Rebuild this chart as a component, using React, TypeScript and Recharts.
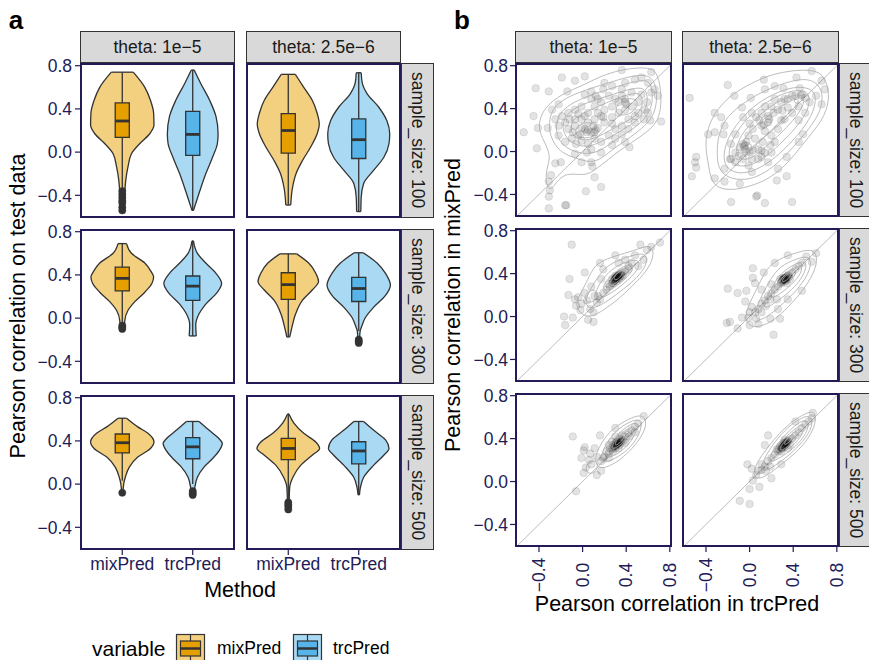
import React from "react";
import {
  Area,
  ComposedChart,
  ReferenceArea,
  ReferenceDot,
  ReferenceLine,
  Scatter,
  XAxis,
  YAxis,
} from "recharts";

// labels
const methods = ["mixPred", "trcPred"];
const thetaLabels = ["theta: 1e\u22125", "theta: 2.5e\u22126"];
const sizeLabels = ["sample_size: 100", "sample_size: 300", "sample_size: 500"];
const corrTicks = [-0.4, 0, 0.4, 0.8];

// violin outlines: [correlation, half width]
const mixViolin_1e5_100 = [[-0.54, 0.03], [-0.45, 0.035], [-0.33, 0.04], [-0.26, 0.05], [-0.14, 0.08], [-0.015, 0.13], [0.08, 0.25], [0.17, 0.39], [0.25, 0.45], [0.36, 0.445], [0.48, 0.4], [0.6, 0.32], [0.74, 0.156]];
const trcViolin_1e5_100 = [[-0.54, 0.01], [-0.48, 0.04], [-0.36, 0.1], [-0.2, 0.185], [-0.05, 0.28], [0.08, 0.35], [0.17, 0.36], [0.33, 0.33], [0.48, 0.24], [0.64, 0.11], [0.76, 0.02]];
const mixViolin_25e6_100 = [[-0.49, 0.035], [-0.33, 0.06], [-0.2, 0.11], [-0.08, 0.2], [0.05, 0.32], [0.17, 0.41], [0.26, 0.44], [0.36, 0.41], [0.48, 0.34], [0.6, 0.22], [0.72, 0.1]];
const trcViolin_25e6_100 = [[-0.55, 0.03], [-0.42, 0.035], [-0.29, 0.07], [-0.17, 0.21], [-0.05, 0.355], [0.08, 0.43], [0.17, 0.44], [0.29, 0.4], [0.42, 0.28], [0.54, 0.12], [0.64, 0.05], [0.735, 0.035]];
const mixViolin_1e5_300 = [[-0.09, 0.03], [-0.025, 0.035], [0.07, 0.08], [0.15, 0.175], [0.24, 0.32], [0.32, 0.42], [0.38, 0.445], [0.43, 0.41], [0.51, 0.32], [0.6, 0.13], [0.69, 0.06]];
const trcViolin_1e5_300 = [[-0.165, 0.05], [-0.06, 0.043], [0.04, 0.09], [0.13, 0.185], [0.24, 0.35], [0.32, 0.41], [0.415, 0.33], [0.51, 0.185], [0.6, 0.066], [0.715, 0.01]];
const mixViolin_25e6_300 = [[-0.175, 0.02], [-0.09, 0.05], [0.04, 0.105], [0.164, 0.2], [0.26, 0.34], [0.34, 0.43], [0.415, 0.39], [0.51, 0.29], [0.595, 0.12]];
const trcViolin_25e6_300 = [[-0.23, 0.01], [-0.12, 0.02], [-0.09, 0.035], [0.006, 0.095], [0.1, 0.21], [0.21, 0.38], [0.305, 0.45], [0.415, 0.38], [0.51, 0.26], [0.605, 0.065]];
const mixViolin_1e5_500 = [[-0.08, 0.01], [0.0, 0.02], [0.063, 0.043], [0.157, 0.1], [0.25, 0.22], [0.33, 0.4], [0.39, 0.45], [0.47, 0.365], [0.53, 0.22], [0.61, 0.06]];
const trcViolin_1e5_500 = [[-0.1, 0.02], [-0.03, 0.03], [0.063, 0.066], [0.157, 0.16], [0.235, 0.28], [0.31, 0.375], [0.376, 0.42], [0.42, 0.375], [0.5, 0.23], [0.58, 0.09]];
const mixViolin_25e6_500 = [[-0.235, 0.01], [-0.03, 0.02], [0.063, 0.066], [0.173, 0.175], [0.267, 0.34], [0.33, 0.445], [0.39, 0.39], [0.47, 0.22], [0.565, 0.08], [0.65, 0.01]];
const trcViolin_25e6_500 = [[-0.1, 0.01], [-0.03, 0.024], [0.063, 0.07], [0.173, 0.21], [0.267, 0.355], [0.33, 0.43], [0.41, 0.38], [0.5, 0.21], [0.58, 0.07]];

// boxes: [lower whisker, q1, median, q3, upper whisker]
const mixBox_1e5_100 = [-0.33, 0.136, 0.288, 0.456, 0.74];
const trcBox_1e5_100 = [-0.54, -0.031, 0.164, 0.378, 0.76];
const mixBox_25e6_100 = [-0.49, -0.009, 0.2, 0.357, 0.72];
const trcBox_25e6_100 = [-0.55, -0.059, 0.115, 0.307, 0.735];
const mixBox_1e5_300 = [-0.05, 0.252, 0.368, 0.472, 0.69];
const trcBox_1e5_300 = [-0.165, 0.164, 0.296, 0.39, 0.715];
const mixBox_25e6_300 = [-0.175, 0.173, 0.31, 0.42, 0.595];
const trcBox_25e6_300 = [-0.12, 0.154, 0.274, 0.378, 0.605];
const mixBox_1e5_500 = [0.03, 0.289, 0.383, 0.464, 0.61];
const trcBox_1e5_500 = [0.0, 0.235, 0.345, 0.43, 0.58];
const mixBox_25e6_500 = [-0.14, 0.226, 0.33, 0.423, 0.65];
const trcBox_25e6_500 = [-0.1, 0.188, 0.307, 0.392, 0.58];

// outliers
const mixOut_1e5_100 = [-0.36, -0.39, -0.42, -0.45, -0.47, -0.51, -0.54];
const mixOut_1e5_300 = [-0.07, -0.085, -0.1];
const trcOut_25e6_300 = [-0.2, -0.215, -0.23];
const mixOut_1e5_500 = [-0.08];
const trcOut_1e5_500 = [-0.065, -0.085, -0.1];
const mixOut_25e6_500 = [-0.17, -0.19, -0.21, -0.235];

// scatter points: [trcPred, mixPred]
const pts_1e5_100 = [
  [0.36, 0.76], [0.63, 0.74], [-0.19, 0.69], [-0.07, 0.66], [0.02, 0.7], [-0.43, 0.59], [-0.31, 0.56], [-0.14, 0.56], [0.02, 0.53], [0.12, 0.52],
  [-0.54, 0.18], [-0.45, 0.33], [-0.42, 0.03], [-0.41, 0.22], [-0.32, 0.22], [-0.28, 0.39], [-0.22, 0.44], [0.72, 0.28], [0.43, 0.04], [-0.25, -0.11],
  [-0.2, -0.1], [-0.29, -0.22], [-0.31, -0.28], [-0.3, -0.36], [-0.31, -0.42], [0.03, -0.37], [0.17, -0.33], [0.09, -0.14], [0.11, -0.24], [-0.31, -0.53],
  [-0.15, -0.5], [-0.16, -0.5], [-0.01, -0.1], [-0.07, -0.02], [0.19, 0.58], [0.27, 0.61], [0.39, 0.64], [0.48, 0.67], [0.54, 0.69], [0.6, 0.64],
  [0.63, 0.55], [0.59, 0.46], [0.54, 0.53], [0.45, 0.55], [0.36, 0.52], [0.3, 0.49], [0.24, 0.52], [0.17, 0.46], [0.11, 0.42], [0.05, 0.36],
  [-0.01, 0.3], [-0.07, 0.24], [-0.09, 0.18], [-0.04, 0.15], [0.02, 0.21], [0.08, 0.18], [0.14, 0.22], [0.2, 0.27], [0.27, 0.32], [0.33, 0.36],
  [0.39, 0.39], [0.45, 0.42], [0.51, 0.36], [0.56, 0.3], [0.48, 0.27], [0.42, 0.3], [0.36, 0.24], [0.3, 0.21], [0.24, 0.15], [0.17, 0.09],
  [0.11, 0.12], [0.05, 0.07], [-0.01, 0.1], [-0.06, 0.07], [-0.13, 0.21], [-0.16, 0.27], [-0.19, 0.33], [-0.13, 0.36], [-0.07, 0.39], [-0.01, 0.42],
  [0.08, 0.49], [0.14, 0.36], [0.2, 0.39], [0.27, 0.42], [0.33, 0.46], [0.39, 0.49], [0.51, 0.46], [0.57, 0.39], [0.66, 0.58], [0.36, 0.58],
  [0.17, 0.33], [0.11, 0.3], [0.05, 0.27], [-0.01, 0.22], [-0.07, 0.3], [-0.1, 0.12], [-0.16, 0.09], [-0.22, 0.15], [-0.22, 0.24], [-0.25, 0.3],
  [0.3, 0.12], [0.36, 0.16], [0.42, 0.21], [0.48, 0.33], [0.08, 0.02], [0.17, -0.01], [0.04, -0.01], [0.27, 0.06], [0.39, 0.09], [0.6, 0.36],
  [0.62, 0.29], [0.69, 0.52], [0.2, 0.64], [0.08, 0.56], [0.14, 0.49], [0.27, 0.26], [0.1, 0.24], [0.02, 0.33], [-0.04, 0.35], [-0.12, 0.3],
  [0.04, 0.18], [0.39, 0.46], [0.19, 0.32], [0.11, 0.18], [-0.02, 0.16], [0.08, -0.1], [0.05, 0.2], [0.4, 0.44], [0.12, 0.2],
];
const pts_25e6_100 = [
  [-0.2, 0.62], [-0.55, 0.5], [-0.14, 0.52], [0.01, 0.5], [0.13, 0.67], [0.23, 0.61], [0.31, 0.59], [0.43, 0.69], [0.57, 0.75], [0.66, 0.66],
  [0.69, 0.58], [0.61, 0.52], [0.66, 0.44], [0.46, 0.59], [0.39, 0.52], [0.32, 0.49], [0.14, 0.58], [-0.32, 0.36], [-0.26, 0.32], [-0.23, 0.24],
  [-0.38, 0.16], [-0.32, 0.18], [-0.24, 0.16], [-0.13, 0.16], [-0.17, 0.07], [-0.49, -0.05], [-0.5, -0.1], [-0.53, -0.23], [-0.49, -0.15], [-0.32, -0.25],
  [-0.23, -0.28], [-0.09, -0.3], [-0.17, -0.47], [0.06, -0.42], [0.07, -0.41], [0.14, -0.48], [0.39, -0.47], [0.25, -0.27], [0.34, -0.23], [0.26, -0.16],
  [0.49, 0.16], [0.45, 0.09], [0.34, -0.05], [0.02, -0.19], [0.11, 0.01], [0.2, -0.01], [-0.23, -0.16], [-0.17, -0.07], [-0.07, 0.41], [-0.06, 0.32],
  [-0.04, 0.06], [-0.03, -0.01], [-0.06, -0.07], [-0.1, -0.04], [-0.13, -0.1], [-0.18, -0.07], [-0.01, -0.13], [0.02, -0.07], [0.08, 0.02], [0.12, 0.09],
  [0.05, 0.12], [-0.01, 0.15], [0.03, 0.21], [0.11, 0.24], [0.17, 0.27], [0.11, 0.36], [0.14, 0.42], [0.17, 0.33], [0.22, 0.36], [0.26, 0.39],
  [0.29, 0.46], [0.35, 0.49], [0.42, 0.52], [0.48, 0.53], [0.51, 0.5], [0.45, 0.42], [0.39, 0.36], [0.32, 0.3], [0.26, 0.21], [0.2, 0.15],
  [0.19, 0.06], [0.23, 0.09], [0.14, -0.01], [0.08, -0.07], [0.09, 0.29], [0.06, 0.32], [0.14, 0.19], [-0.03, 0.09], [-0.09, 0.04], [-0.13, -0.01],
  [0.29, 0.29], [0.35, 0.41], [0.23, 0.49], [0.02, 0.36], [0.0, 0.26], [-0.06, 0.07], [-0.04, 0.02], [0.03, 0.01], [0.11, -0.05], [0.17, -0.1],
  [0.2, 0.42], [0.45, 0.29], [0.51, 0.36], [0.55, 0.46], [-0.05, 0.05], [0.0, 0.0], [0.13, 0.25], [0.47, 0.52], [0.3, 0.38], [0.18, 0.3],
];
const pts_1e5_300 = [
  [-0.1, 0.67], [0.02, 0.41], [-0.12, 0.35], [-0.13, 0.2], [-0.17, 0.0], [-0.09, -0.01], [-0.16, -0.08], [0.05, -0.03], [0.1, -0.05], [-0.02, 0.06],
  [-0.07, 0.16], [-0.04, 0.18], [0.02, 0.22], [0.11, 0.19], [0.07, 0.07], [0.1, 0.04], [0.3, 0.57], [0.53, 0.67], [0.63, 0.65], [0.71, 0.69],
  [0.56, 0.53], [0.16, 0.5], [0.19, 0.44], [0.08, 0.28], [0.17, 0.35], [0.14, 0.19], [0.04, 0.15], [-0.01, 0.12], [-0.06, 0.1], [0.33, 0.5],
  [0.39, 0.53], [0.48, 0.57], [0.59, 0.62], [0.42, 0.44], [0.51, 0.47], [0.27, 0.35], [0.3, 0.38], [0.33, 0.39], [0.36, 0.41], [0.39, 0.42],
  [0.28, 0.31], [0.25, 0.28], [0.22, 0.25], [0.31, 0.33], [0.34, 0.36], [0.37, 0.38], [0.3, 0.35], [0.33, 0.35], [0.36, 0.38], [0.27, 0.31],
  [0.24, 0.3], [0.42, 0.47], [0.45, 0.5], [0.19, 0.22], [0.16, 0.16], [0.13, 0.13], [0.32, 0.37], [0.35, 0.39], [0.29, 0.33], [0.31, 0.36],
  [0.29, 0.34], [0.3, 0.35], [0.31, 0.36], [0.32, 0.37], [0.33, 0.38], [0.34, 0.39], [0.3, 0.36], [0.32, 0.36], [0.31, 0.35], [0.33, 0.37],
  [0.28, 0.33], [0.35, 0.4], [0.31, 0.37], [0.32, 0.38], [0.3, 0.34],
];
const pts_25e6_300 = [
  [-0.2, 0.26], [-0.11, 0.22], [-0.21, -0.06], [-0.18, -0.05], [-0.11, -0.11], [0.22, -0.17], [-0.04, 0.14], [-0.03, 0.24], [0.03, 0.45], [0.03, 0.36],
  [0.13, 0.41], [0.05, 0.31], [-0.07, -0.01], [0.0, 0.04], [0.08, -0.07], [0.0, -0.08], [0.19, -0.02], [0.26, 0.07], [0.28, -0.02], [0.35, 0.16],
  [0.48, 0.24], [0.23, 0.5], [0.35, 0.57], [0.52, 0.56], [0.61, 0.59], [0.57, 0.51], [0.29, 0.31], [0.32, 0.35], [0.35, 0.38], [0.39, 0.41],
  [0.42, 0.44], [0.26, 0.28], [0.23, 0.25], [0.2, 0.22], [0.17, 0.19], [0.14, 0.15], [0.11, 0.12], [0.08, 0.07], [0.05, 0.04], [0.34, 0.31],
  [0.31, 0.36], [0.37, 0.35], [0.28, 0.35], [0.45, 0.47], [0.48, 0.5], [0.19, 0.16], [0.15, 0.1], [0.11, 0.04], [0.02, 0.09], [-0.01, -0.01],
  [0.06, -0.02], [0.2, 0.3], [0.11, 0.25], [0.25, 0.16], [0.33, 0.33], [0.3, 0.34], [0.36, 0.37],
  [0.3, 0.33], [0.31, 0.34], [0.32, 0.35], [0.33, 0.36], [0.34, 0.37], [0.35, 0.38], [0.31, 0.35], [0.33, 0.35], [0.32, 0.34], [0.34, 0.36],
  [0.29, 0.32], [0.36, 0.39], [0.32, 0.36], [0.33, 0.34],
];
const pts_1e5_500 = [
  [-0.09, 0.42], [0.16, 0.43], [0.02, 0.32], [0.01, 0.29], [0.06, 0.2], [0.08, 0.16], [0.13, 0.06], [0.01, 0.08], [0.03, 0.13], [0.17, 0.1],
  [-0.06, -0.09], [0.11, 0.31], [0.07, 0.26], [0.13, 0.23], [-0.01, 0.22], [0.56, 0.61], [0.3, 0.5], [0.2, 0.23], [0.24, 0.26], [0.27, 0.3],
  [0.3, 0.33], [0.33, 0.36], [0.36, 0.39], [0.39, 0.42], [0.42, 0.45], [0.45, 0.48], [0.48, 0.51], [0.51, 0.54], [0.28, 0.34], [0.31, 0.37],
  [0.34, 0.4], [0.25, 0.31], [0.22, 0.28], [0.34, 0.34], [0.37, 0.38], [0.28, 0.28], [0.33, 0.31], [0.17, 0.19], [0.19, 0.22], [0.24, 0.22],
  [0.39, 0.36], [0.43, 0.42], [0.27, 0.37], [0.3, 0.42], [0.36, 0.43], [0.48, 0.46], [0.24, 0.34], [0.32, 0.35], [0.3, 0.31], [0.35, 0.37],
  [0.29, 0.33], [0.3, 0.34], [0.31, 0.35], [0.32, 0.36], [0.33, 0.37], [0.34, 0.38], [0.3, 0.35], [0.32, 0.35], [0.31, 0.34], [0.33, 0.36],
  [0.28, 0.32], [0.35, 0.39], [0.31, 0.36], [0.32, 0.37],
];
const pts_25e6_500 = [
  [0.58, 0.64], [0.42, 0.56], [-0.02, 0.16], [0.02, 0.12], [0.29, 0.16], [0.2, 0.03], [0.09, -0.05], [0.0, -0.07], [-0.09, -0.18], [0.0, -0.21],
  [0.06, 0.06], [0.03, 0.01], [0.11, 0.16], [0.14, 0.34], [0.17, 0.43], [0.11, 0.11], [0.14, 0.14], [0.17, 0.19], [0.2, 0.22], [0.23, 0.25],
  [0.26, 0.28], [0.29, 0.31], [0.32, 0.34], [0.35, 0.37], [0.39, 0.4], [0.42, 0.43], [0.45, 0.46], [0.48, 0.5], [0.51, 0.53], [0.54, 0.56],
  [0.57, 0.59], [0.28, 0.33], [0.31, 0.36], [0.34, 0.37], [0.37, 0.34], [0.29, 0.28], [0.25, 0.3], [0.32, 0.39], [0.35, 0.31], [0.19, 0.14],
  [0.15, 0.1], [0.08, 0.1], [0.3, 0.32], [0.33, 0.35], [0.27, 0.3],
  [0.3, 0.33], [0.31, 0.34], [0.32, 0.35], [0.33, 0.36], [0.34, 0.37], [0.35, 0.38], [0.31, 0.33], [0.33, 0.35], [0.32, 0.33], [0.34, 0.36],
  [0.29, 0.32], [0.36, 0.39], [0.32, 0.36], [0.3, 0.31],
];

// density contour rings: [trcPred, mixPred]
const contours_1e5_100 = [
  [[0.68, 0.75], [0.72, 0.58], [0.72, 0.39], [0.68, 0.27], [0.59, 0.18], [0.46, 0.09], [0.34, 0.01], [0.24, -0.07], [0.13, -0.16], [0.04, -0.22], [-0.07, -0.21], [-0.16, -0.21], [-0.24, -0.28], [-0.3, -0.38], [-0.34, -0.28], [-0.33, -0.16], [-0.29, -0.04], [-0.35, 0.09], [-0.41, 0.21], [-0.38, 0.36], [-0.28, 0.47], [-0.16, 0.55], [-0.01, 0.61], [0.14, 0.69], [0.3, 0.75], [0.48, 0.78], [0.6, 0.78]],
  [[0.66, 0.7], [0.69, 0.49], [0.65, 0.32], [0.54, 0.21], [0.42, 0.12], [0.3, 0.04], [0.17, -0.07], [0.08, -0.1], [-0.01, -0.08], [-0.13, -0.04], [-0.23, 0.02], [-0.3, 0.15], [-0.31, 0.27], [-0.28, 0.39], [-0.19, 0.48], [-0.04, 0.55], [0.14, 0.61], [0.33, 0.67], [0.51, 0.72]],
  [[0.63, 0.64], [0.65, 0.46], [0.59, 0.32], [0.48, 0.22], [0.36, 0.15], [0.24, 0.06], [0.11, -0.02], [-0.01, -0.02], [-0.13, 0.02], [-0.22, 0.1], [-0.25, 0.22], [-0.22, 0.35], [-0.12, 0.44], [0.05, 0.52], [0.24, 0.58], [0.42, 0.64], [0.57, 0.67]],
  [[0.59, 0.6], [0.6, 0.44], [0.54, 0.32], [0.43, 0.24], [0.3, 0.16], [0.17, 0.09], [0.05, 0.04], [-0.06, 0.06], [-0.15, 0.12], [-0.19, 0.23], [-0.16, 0.33], [-0.07, 0.41], [0.08, 0.47], [0.27, 0.53], [0.45, 0.59]],
  [[0.54, 0.55], [0.56, 0.42], [0.48, 0.32], [0.36, 0.26], [0.24, 0.19], [0.13, 0.13], [0.02, 0.1], [-0.07, 0.13], [-0.12, 0.21], [-0.09, 0.3], [0.01, 0.36], [0.14, 0.42], [0.3, 0.49], [0.44, 0.54]],
  [[0.14, 0.22], [0.13, 0.15], [0.04, 0.12], [-0.06, 0.14], [-0.07, 0.21], [-0.01, 0.27], [0.1, 0.27]],
  [[0.51, 0.49], [0.5, 0.39], [0.39, 0.33], [0.3, 0.35], [0.31, 0.44], [0.4, 0.5]],
  [[0.08, 0.21], [0.04, 0.16], [-0.02, 0.19], [0.01, 0.24]],
];
const contours_25e6_100 = [
  [[0.69, 0.7], [0.74, 0.52], [0.69, 0.33], [0.58, 0.18], [0.48, 0.06], [0.36, -0.1], [0.2, -0.24], [0.05, -0.31], [-0.13, -0.36], [-0.29, -0.35], [-0.36, -0.25], [-0.38, -0.1], [-0.41, 0.06], [-0.38, 0.24], [-0.3, 0.39], [-0.17, 0.53], [0.02, 0.64], [0.2, 0.72], [0.42, 0.76], [0.6, 0.76]],
  [[0.64, 0.64], [0.68, 0.49], [0.63, 0.33], [0.52, 0.18], [0.4, 0.04], [0.26, -0.11], [0.11, -0.22], [-0.04, -0.27], [-0.2, -0.25], [-0.29, -0.16], [-0.3, -0.01], [-0.29, 0.14], [-0.23, 0.3], [-0.1, 0.42], [0.06, 0.53], [0.26, 0.62], [0.49, 0.69]],
  [[0.6, 0.59], [0.61, 0.44], [0.55, 0.3], [0.45, 0.16], [0.31, 0.01], [0.17, -0.11], [0.02, -0.19], [-0.12, -0.21], [-0.23, -0.14], [-0.24, -0.02], [-0.2, 0.13], [-0.1, 0.28], [0.03, 0.42], [0.2, 0.53], [0.4, 0.61]],
  [[0.55, 0.56], [0.55, 0.42], [0.48, 0.29], [0.36, 0.15], [0.22, 0.01], [0.08, -0.1], [-0.06, -0.15], [-0.17, -0.11], [-0.2, -0.01], [-0.15, 0.13], [-0.06, 0.27], [0.08, 0.41], [0.25, 0.52], [0.43, 0.58]],
  [[0.51, 0.53], [0.49, 0.41], [0.4, 0.29], [0.28, 0.16], [0.14, 0.04], [0.02, -0.07], [-0.09, -0.08], [-0.13, -0.01], [-0.1, 0.12], [-0.01, 0.24], [0.11, 0.36], [0.26, 0.47], [0.41, 0.53]],
  [[0.46, 0.49], [0.43, 0.39], [0.32, 0.29], [0.2, 0.19], [0.08, 0.09], [-0.01, 0.01], [-0.07, 0.02], [-0.06, 0.11], [0.03, 0.22], [0.16, 0.33], [0.29, 0.42], [0.4, 0.49]],
  [[0.03, 0.07], [0.0, -0.02], [-0.07, -0.04], [-0.09, 0.04], [-0.03, 0.09]],
  [[0.22, 0.33], [0.19, 0.24], [0.11, 0.21], [0.08, 0.27], [0.14, 0.35]],
  [[0.51, 0.53], [0.48, 0.46], [0.4, 0.44], [0.42, 0.52]],
];
const contours_1e5_300 = [
  [[0.63, 0.67], [0.66, 0.57], [0.59, 0.42], [0.46, 0.29], [0.33, 0.16], [0.19, 0.06], [0.08, -0.01], [-0.02, 0.02], [-0.07, 0.12], [-0.02, 0.21], [0.05, 0.35], [0.11, 0.48], [0.22, 0.54], [0.39, 0.59], [0.54, 0.64]],
  [[0.59, 0.59], [0.59, 0.48], [0.5, 0.36], [0.37, 0.25], [0.25, 0.16], [0.14, 0.09], [0.05, 0.07], [0.02, 0.15], [0.07, 0.25], [0.14, 0.37], [0.22, 0.47], [0.34, 0.53], [0.48, 0.58]],
  [[0.52, 0.54], [0.52, 0.45], [0.43, 0.35], [0.31, 0.25], [0.2, 0.18], [0.13, 0.16], [0.11, 0.22], [0.17, 0.33], [0.26, 0.44], [0.39, 0.51]],
  [[0.47, 0.5], [0.46, 0.42], [0.37, 0.33], [0.27, 0.25], [0.19, 0.24], [0.19, 0.3], [0.27, 0.39], [0.37, 0.47]],
  [[0.43, 0.47], [0.42, 0.41], [0.33, 0.33], [0.26, 0.28], [0.24, 0.31], [0.3, 0.39], [0.37, 0.45]],
  [[0.38, 0.44], [0.36, 0.38], [0.3, 0.33], [0.28, 0.36], [0.33, 0.42]],
  [[0.14, 0.24], [0.13, 0.15], [0.04, 0.12], [0.01, 0.19], [0.07, 0.25]],
];
const contours_25e6_300 = [
  [[0.6, 0.62], [0.63, 0.5], [0.54, 0.31], [0.42, 0.16], [0.29, 0.02], [0.17, -0.07], [0.03, -0.11], [-0.04, -0.05], [-0.03, 0.07], [0.05, 0.22], [0.12, 0.38], [0.2, 0.5], [0.35, 0.57], [0.51, 0.62]],
  [[0.55, 0.57], [0.57, 0.47], [0.49, 0.31], [0.37, 0.18], [0.25, 0.07], [0.14, -0.02], [0.06, -0.04], [0.05, 0.06], [0.11, 0.19], [0.19, 0.35], [0.28, 0.47], [0.43, 0.54]],
  [[0.52, 0.53], [0.52, 0.44], [0.45, 0.31], [0.32, 0.19], [0.22, 0.12], [0.14, 0.07], [0.12, 0.13], [0.19, 0.24], [0.26, 0.38], [0.39, 0.48]],
  [[0.48, 0.48], [0.48, 0.41], [0.39, 0.3], [0.28, 0.21], [0.19, 0.16], [0.19, 0.22], [0.28, 0.35], [0.39, 0.45]],
  [[0.43, 0.44], [0.42, 0.38], [0.34, 0.3], [0.26, 0.26], [0.25, 0.29], [0.31, 0.38], [0.39, 0.44]],
  [[0.39, 0.41], [0.36, 0.35], [0.29, 0.31], [0.31, 0.36], [0.35, 0.4]],
];
const contours_1e5_500 = [
  [[0.57, 0.62], [0.59, 0.51], [0.51, 0.37], [0.4, 0.25], [0.3, 0.17], [0.19, 0.12], [0.13, 0.14], [0.11, 0.22], [0.16, 0.34], [0.24, 0.46], [0.36, 0.55], [0.48, 0.61]],
  [[0.54, 0.59], [0.54, 0.48], [0.47, 0.35], [0.36, 0.25], [0.25, 0.19], [0.17, 0.17], [0.17, 0.25], [0.22, 0.36], [0.31, 0.48], [0.43, 0.56]],
  [[0.51, 0.56], [0.5, 0.47], [0.43, 0.35], [0.33, 0.26], [0.24, 0.22], [0.2, 0.25], [0.24, 0.34], [0.33, 0.45], [0.43, 0.53]],
  [[0.47, 0.52], [0.46, 0.44], [0.4, 0.35], [0.31, 0.28], [0.25, 0.26], [0.23, 0.3], [0.28, 0.37], [0.37, 0.47]],
  [[0.43, 0.48], [0.42, 0.42], [0.35, 0.34], [0.28, 0.3], [0.26, 0.32], [0.31, 0.4], [0.39, 0.46]],
  [[0.39, 0.44], [0.37, 0.39], [0.31, 0.33], [0.29, 0.35], [0.33, 0.41]],
  [[0.14, 0.2], [0.14, 0.11], [0.07, 0.06], [0.02, 0.11], [0.05, 0.19]],
];
const contours_25e6_500 = [
  [[0.6, 0.66], [0.61, 0.54], [0.54, 0.4], [0.42, 0.26], [0.29, 0.16], [0.17, 0.06], [0.08, 0.02], [0.03, 0.06], [0.06, 0.17], [0.16, 0.31], [0.27, 0.45], [0.4, 0.57], [0.52, 0.64]],
  [[0.57, 0.62], [0.58, 0.51], [0.49, 0.37], [0.37, 0.25], [0.25, 0.16], [0.14, 0.09], [0.1, 0.12], [0.14, 0.23], [0.23, 0.37], [0.35, 0.51], [0.48, 0.6]],
  [[0.54, 0.58], [0.54, 0.48], [0.45, 0.35], [0.34, 0.26], [0.23, 0.19], [0.18, 0.19], [0.19, 0.25], [0.26, 0.36], [0.37, 0.48], [0.46, 0.56]],
  [[0.5, 0.54], [0.5, 0.46], [0.42, 0.35], [0.31, 0.27], [0.23, 0.24], [0.23, 0.29], [0.31, 0.39], [0.42, 0.5]],
  [[0.46, 0.49], [0.45, 0.43], [0.37, 0.34], [0.29, 0.28], [0.27, 0.31], [0.34, 0.4], [0.42, 0.47]],
  [[0.41, 0.45], [0.39, 0.39], [0.33, 0.34], [0.31, 0.35], [0.36, 0.42]],
];

const violinFacets = [
  { row: 0, col: 0, mix: [mixViolin_1e5_100, mixBox_1e5_100, mixOut_1e5_100], trc: [trcViolin_1e5_100, trcBox_1e5_100, []] },
  { row: 0, col: 1, mix: [mixViolin_25e6_100, mixBox_25e6_100, []], trc: [trcViolin_25e6_100, trcBox_25e6_100, []] },
  { row: 1, col: 0, mix: [mixViolin_1e5_300, mixBox_1e5_300, mixOut_1e5_300], trc: [trcViolin_1e5_300, trcBox_1e5_300, []] },
  { row: 1, col: 1, mix: [mixViolin_25e6_300, mixBox_25e6_300, []], trc: [trcViolin_25e6_300, trcBox_25e6_300, trcOut_25e6_300] },
  { row: 2, col: 0, mix: [mixViolin_1e5_500, mixBox_1e5_500, mixOut_1e5_500], trc: [trcViolin_1e5_500, trcBox_1e5_500, trcOut_1e5_500] },
  { row: 2, col: 1, mix: [mixViolin_25e6_500, mixBox_25e6_500, mixOut_25e6_500], trc: [trcViolin_25e6_500, trcBox_25e6_500, []] },
];

const scatterFacets = [
  { row: 0, col: 0, pts: pts_1e5_100, rings: contours_1e5_100 },
  { row: 0, col: 1, pts: pts_25e6_100, rings: contours_25e6_100 },
  { row: 1, col: 0, pts: pts_1e5_300, rings: contours_1e5_300 },
  { row: 1, col: 1, pts: pts_25e6_300, rings: contours_25e6_300 },
  { row: 2, col: 0, pts: pts_1e5_500, rings: contours_1e5_500 },
  { row: 2, col: 1, pts: pts_25e6_500, rings: contours_25e6_500 },
];

const NAVY = "#221B57";
const OUTLINE = "#333333";
const FONT = "'Liberation Sans', Arial, Helvetica, sans-serif";
const MIX_VIOLIN = "#F3CF80";
const MIX_BOX = "#E69F00";
const TRC_VIOLIN = "#AAD9F3";
const TRC_BOX = "#56B4E9";
const TICK_FS = 17.5;
const TITLE_FS = 21.5;

const Y_DOMAIN = [-0.61, 0.825];
const METHOD_DOMAIN = [0.4, 2.6];
const B_X_DOMAIN = [-0.62, 0.82];

const A = { cols: [80, 246], rows: [63, 229, 395], w: 155, h: 155 };
const B = { cols: [515, 682], rows: [63, 228, 393], w: 157, h: 154 };
const AXW = 45;

const fmt = (v: number) => (v < 0 ? "\u2212" : "") + Math.abs(v).toFixed(1);

function ViolinChart({ spec, center, fill, boxFill, showY, showX }: any) {
  const [profile, box, outliers] = spec;
  const rows = profile.map(([y, w]: number[]) => ({ y, span: [center - w, center + w] }));
  const first = profile[0];
  const last = profile[profile.length - 1];
  const width = A.w + (showY ? AXW : 0);
  const height = A.h + (showX ? 30 : 0);
  const line = { stroke: OUTLINE, strokeWidth: 1.3 };
  return (
    <ComposedChart layout="vertical" width={width} height={height} data={rows} margin={{ top: 0, right: 0, bottom: 0, left: 0 }}>
      <XAxis
        type="number"
        domain={METHOD_DOMAIN}
        allowDataOverflow
        ticks={[1, 2]}
        interval={0}
        tickFormatter={(v) => methods[v - 1]}
        hide={!showX}
        height={30}
        axisLine={false}
        tickSize={5}
        tickMargin={3}
        tickLine={{ stroke: NAVY, strokeWidth: 1.2 }}
        tick={{ fill: NAVY, fontSize: TICK_FS }}
      />
      <YAxis
        type="number"
        dataKey="y"
        reversed
        domain={Y_DOMAIN}
        allowDataOverflow
        ticks={corrTicks}
        interval={0}
        tickFormatter={fmt}
        hide={!showY}
        width={AXW}
        axisLine={false}
        tickSize={5}
        tickMargin={3}
        tickLine={{ stroke: NAVY, strokeWidth: 1.2 }}
        tick={{ fill: NAVY, fontSize: TICK_FS }}
      />
      <Area dataKey="span" type="monotone" fill={fill} fillOpacity={1} stroke={OUTLINE} strokeWidth={1.3} dot={false} activeDot={false} isAnimationActive={false} />
      <ReferenceLine segment={[{ x: center - first[1], y: first[0] }, { x: center + first[1], y: first[0] }]} {...line} />
      <ReferenceLine segment={[{ x: center - last[1], y: last[0] }, { x: center + last[1], y: last[0] }]} {...line} />
      <ReferenceLine segment={[{ x: center, y: box[0] }, { x: center, y: box[1] }]} {...line} />
      <ReferenceLine segment={[{ x: center, y: box[3] }, { x: center, y: box[4] }]} {...line} />
      <ReferenceArea x1={center - 0.1} x2={center + 0.1} y1={box[1]} y2={box[3]} fill={boxFill} fillOpacity={1} stroke={OUTLINE} strokeWidth={1.3} />
      <ReferenceLine segment={[{ x: center - 0.1, y: box[2] }, { x: center + 0.1, y: box[2] }]} stroke={OUTLINE} strokeWidth={2.8} />
      {outliers.map((v: number, i: number) => (
        <ReferenceDot key={i} x={center} y={v} r={3.6} fill={OUTLINE} stroke={OUTLINE} strokeWidth={0.5} />
      ))}
    </ComposedChart>
  );
}

function RotatedTick(props: any) {
  const { x, y, payload } = props;
  return (
    <text transform={`translate(${x},${y + 21}) rotate(-90)`} textAnchor="middle" dominantBaseline="central" fill={NAVY} fontSize={TICK_FS}>
      {fmt(payload.value)}
    </text>
  );
}

function ScatterChartFacet({ pts, rings, showY, showX }: any) {
  const width = B.w + (showY ? AXW : 0);
  const height = B.h + (showX ? 50 : 0);
  const points = pts.map(([x, y]: number[]) => ({ x, y }));
  return (
    <ComposedChart width={width} height={height} margin={{ top: 0, right: 0, bottom: 0, left: 0 }}>
      <XAxis
        type="number"
        dataKey="x"
        domain={B_X_DOMAIN}
        allowDataOverflow
        ticks={corrTicks}
        interval={0}
        hide={!showX}
        height={50}
        axisLine={false}
        tickSize={5}
        tickMargin={2}
        tickLine={{ stroke: NAVY, strokeWidth: 1.2 }}
        tick={<RotatedTick />}
      />
      <YAxis
        type="number"
        dataKey="y"
        domain={Y_DOMAIN}
        allowDataOverflow
        ticks={corrTicks}
        interval={0}
        tickFormatter={fmt}
        hide={!showY}
        width={AXW}
        axisLine={false}
        tickSize={5}
        tickMargin={2}
        tickLine={{ stroke: NAVY, strokeWidth: 1.2 }}
        tick={{ fill: NAVY, fontSize: TICK_FS }}
      />
      <ReferenceLine segment={[{ x: -0.61, y: -0.61 }, { x: 0.82, y: 0.82 }]} stroke="#BDBDBD" strokeWidth={1} ifOverflow="hidden" />
      <Scatter
        data={points}
        isAnimationActive={false}
        shape={(p: any) => (
          <circle cx={p.cx} cy={p.cy} r={3.8} fill="#000" fillOpacity={0.11} stroke="#000" strokeOpacity={0.1} strokeWidth={0.9} />
        )}
      />
      {rings.map((ring: number[][], i: number) => (
        <Scatter
          key={i}
          data={ring.map(([x, y]) => ({ x, y }))}
          line={{ stroke: "#ABABAB", strokeWidth: 0.8 }}
          lineJointType="basisClosed"
          shape={() => <g />}
          isAnimationActive={false}
        />
      ))}
    </ComposedChart>
  );
}

function Box({ left, top, width, height, style, children }: any) {
  return <div style={{ position: "absolute", left, top, width, height, boxSizing: "border-box", ...style }}>{children}</div>;
}

const stripStyle = {
  background: "#D9D9D9",
  border: "1px solid #333",
  color: "#1A1A1A",
  fontSize: TICK_FS,
  display: "flex",
  alignItems: "center",
  justifyContent: "center",
  zIndex: 4,
};

const borderStyle = { border: `2px solid ${NAVY}`, pointerEvents: "none", zIndex: 5 };

function Strips({ cols, rows, w, h, rightX }: any) {
  return (
    <>
      {cols.map((x: number, c: number) => (
        <Box key={"t" + c} left={x} top={31} width={w} height={32} style={stripStyle}>
          {thetaLabels[c]}
        </Box>
      ))}
      {rows.map((y: number, r: number) => (
        <Box key={"r" + r} left={rightX} top={y} width={33} height={h} style={{ ...stripStyle, writingMode: "vertical-rl" }}>
          {sizeLabels[r]}
        </Box>
      ))}
    </>
  );
}

function Title({ x, y, rotate, children, size = TITLE_FS, weight = 400 }: any) {
  return (
    <div
      style={{
        position: "absolute",
        left: x,
        top: y,
        transform: `translate(-50%, -50%)${rotate ? " rotate(-90deg)" : ""}`,
        whiteSpace: "nowrap",
        fontSize: size,
        fontWeight: weight,
        color: "#000",
      }}
    >
      {children}
    </div>
  );
}

function LegendKey({ x, y, fill, boxFill }: any) {
  return (
    <g>
      <rect x={x} y={y} width={28} height={28} fill={fill} stroke={OUTLINE} strokeWidth={1.2} />
      <line x1={x + 14} x2={x + 14} y1={y} y2={y + 6.5} stroke={OUTLINE} strokeWidth={1.2} />
      <line x1={x + 14} x2={x + 14} y1={y + 21.5} y2={y + 28} stroke={OUTLINE} strokeWidth={1.2} />
      <rect x={x + 4} y={y + 6.5} width={20} height={15} fill={boxFill} stroke={OUTLINE} strokeWidth={1.2} />
      <line x1={x + 4} x2={x + 24} y1={y + 14} y2={y + 14} stroke={OUTLINE} strokeWidth={2.5} />
    </g>
  );
}

export default function App() {
  return (
    <div style={{ position: "absolute", left: 0, top: 0, width: 869, height: 660, overflow: "hidden", background: "#fff", fontFamily: FONT }}>
      <style>{`.recharts-surface { overflow: visible; }`}</style>

      <Title x={16} y={20} size={26} weight={700}>a</Title>
      <Title x={462} y={20} size={26} weight={700}>b</Title>

      {/* panel a: violins */}
      {violinFacets.map((f, i) => {
        const x0 = A.cols[f.col];
        const y0 = A.rows[f.row];
        const showY = f.col === 0;
        const showX = f.row === 2;
        return (
          <React.Fragment key={"v" + i}>
            <Box left={showY ? x0 - AXW : x0} top={y0}>
              <ViolinChart spec={f.mix} center={1} fill={MIX_VIOLIN} boxFill={MIX_BOX} showY={showY} showX={showX} />
            </Box>
            <Box left={x0} top={y0}>
              <ViolinChart spec={f.trc} center={2} fill={TRC_VIOLIN} boxFill={TRC_BOX} showY={false} showX={false} />
            </Box>
            <Box left={x0} top={y0} width={A.w} height={A.h} style={borderStyle} />
          </React.Fragment>
        );
      })}
      <Strips cols={A.cols} rows={A.rows} w={A.w} h={A.h} rightX={401} />
      <Title x={18} y={306} rotate>Pearson correlation on test data</Title>
      <Title x={240} y={590}>Method</Title>

      {/* panel b: scatter with density contours */}
      {scatterFacets.map((f, i) => {
        const x0 = B.cols[f.col];
        const y0 = B.rows[f.row];
        const showY = f.col === 0;
        const showX = f.row === 2;
        return (
          <React.Fragment key={"s" + i}>
            <Box left={showY ? x0 - AXW : x0} top={y0}>
              <ScatterChartFacet pts={f.pts} rings={f.rings} showY={showY} showX={showX} />
            </Box>
            <Box left={x0} top={y0} width={B.w} height={B.h} style={borderStyle} />
          </React.Fragment>
        );
      })}
      <Strips cols={B.cols} rows={B.rows} w={B.w} h={B.h} rightX={839} />
      <Title x={453} y={305} rotate>Pearson correlation in mixPred</Title>
      <Title x={677} y={604}>Pearson correlation in trcPred</Title>

      {/* legend */}
      <svg width={869} height={660} style={{ position: "absolute", left: 0, top: 0, pointerEvents: "none" }}>
        <text x={92} y={648} dominantBaseline="central" fontSize={21} fill="#000">variable</text>
        <LegendKey x={176.5} y={634.5} fill={MIX_VIOLIN} boxFill={MIX_BOX} />
        <text x={217} y={648} dominantBaseline="central" fontSize={TICK_FS} fill="#000">mixPred</text>
        <LegendKey x={293.5} y={634.5} fill={TRC_VIOLIN} boxFill={TRC_BOX} />
        <text x={333} y={648} dominantBaseline="central" fontSize={TICK_FS} fill="#000">trcPred</text>
      </svg>
    </div>
  );
}
